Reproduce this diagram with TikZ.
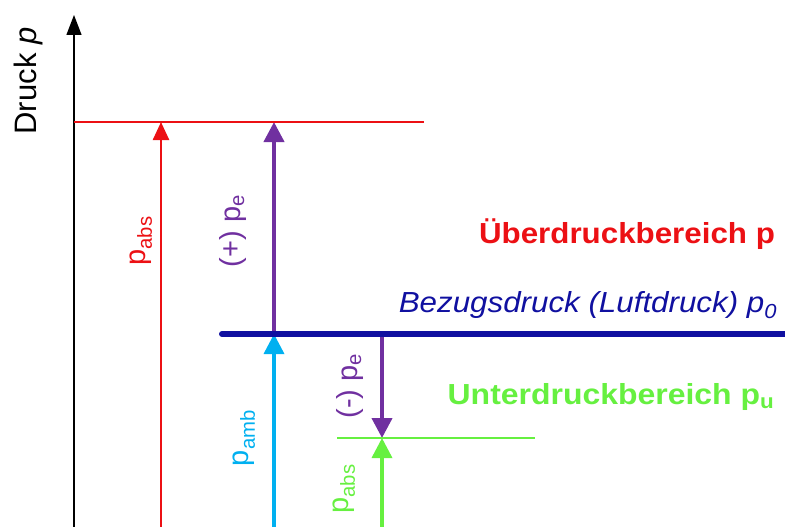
\documentclass[tikz,border=0pt]{standalone}
\usepackage{fontspec}
\setmainfont{Liberation Sans}
\usetikzlibrary{arrows.meta}
\definecolor{overred}{RGB}{236,16,20}
\definecolor{gaugepurple}{RGB}{112,48,160}
\definecolor{refblue}{RGB}{16,16,160}
\definecolor{ambcyan}{RGB}{0,176,240}
\definecolor{undergreen}{RGB}{102,240,64}

\begin{document}
\begin{tikzpicture}[
  x=1pt,y=-1pt,
  lbl/.style={font=\fontsize{29}{34}\selectfont,inner sep=0pt},
  vlbl/.style={lbl,rotate=90},
  hlbl/.style={lbl,xscale=1.08},
  ar/.style={-{Triangle[length=20pt,width=20pt]},line width=#1},
  ar/.default=3.5pt
]
\useasboundingbox (0,0) rectangle (785,527);
% end points of the lines
\coordinate (ax0) at (74,527);
\coordinate (ax1) at (74,15);
\coordinate (top0) at (74,122);
\coordinate (top1) at (424,122);
\coordinate (ref0) at (222,334);
\coordinate (ref1) at (790,334);
\coordinate (low0) at (337,438);
\coordinate (low1) at (535,438);
\coordinate (absr0) at (161,527);
\coordinate (absr1) at (161,122);
\coordinate (pe0) at (274,334);
\coordinate (pe1) at (274,122);
\coordinate (amb0) at (274,527);
\coordinate (amb1) at (274,334);
\coordinate (ne0) at (382,334);
\coordinate (ne1) at (382,438);
\coordinate (absg0) at (382,527);
\coordinate (absg1) at (382,438);
% axis
\draw[-{Triangle[length=20pt,width=15pt]},line width=1.3pt] (ax0) -- (ax1);
\node[vlbl,font=\fontsize{31}{36}\selectfont] (druck) at (28,81) {Druck \textit{p}};
% arrows
\draw[ar=2.5pt,overred,-{Triangle[length=18pt,width=16pt]}] (absr0) -- (absr1);
\draw[ar=4pt,gaugepurple] (pe0) -- (pe1);
\draw[ar,ambcyan] (amb0) -- (amb1);
\draw[ar=4pt,gaugepurple] (ne0) -- (ne1);
\draw[ar,undergreen] (absg0) -- (absg1);
% levels
\draw[overred,line width=2.2pt] (top0) -- (top1);
\draw[refblue,line width=6pt,line cap=round] (ref0) -- (ref1);
\draw[undergreen,line width=2.2pt] (low0) -- (low1);
% labels
\node[vlbl,overred] (pabsr) at (141,241) {p\textsubscript{abs}};
\node[vlbl,gaugepurple] (pepos) at (233,231) {(+) p\textsubscript{e}};
\node[vlbl,ambcyan] (pamb) at (244,438) {p\textsubscript{amb}};
\node[vlbl,gaugepurple] (peneg) at (350,386) {(-) p\textsubscript{e}};
\node[vlbl,undergreen] (pabsg) at (344,489) {p\textsubscript{abs}};
\node[hlbl,overred,font=\fontsize{29}{34}\selectfont\bfseries] (over) at (627,234) {Überdruckbereich p};
\node[hlbl,refblue,font=\fontsize{29}{34}\selectfont\itshape] (bezug) at (588,305) {Bezugsdruck (Luftdruck) p\textsubscript{0}};
\node[hlbl,undergreen,xscale=1.02,font=\fontsize{29}{34}\selectfont\bfseries] (under) at (611,397) {Unterdruckbereich p\textsubscript{u}};
\end{tikzpicture}
\end{document}
